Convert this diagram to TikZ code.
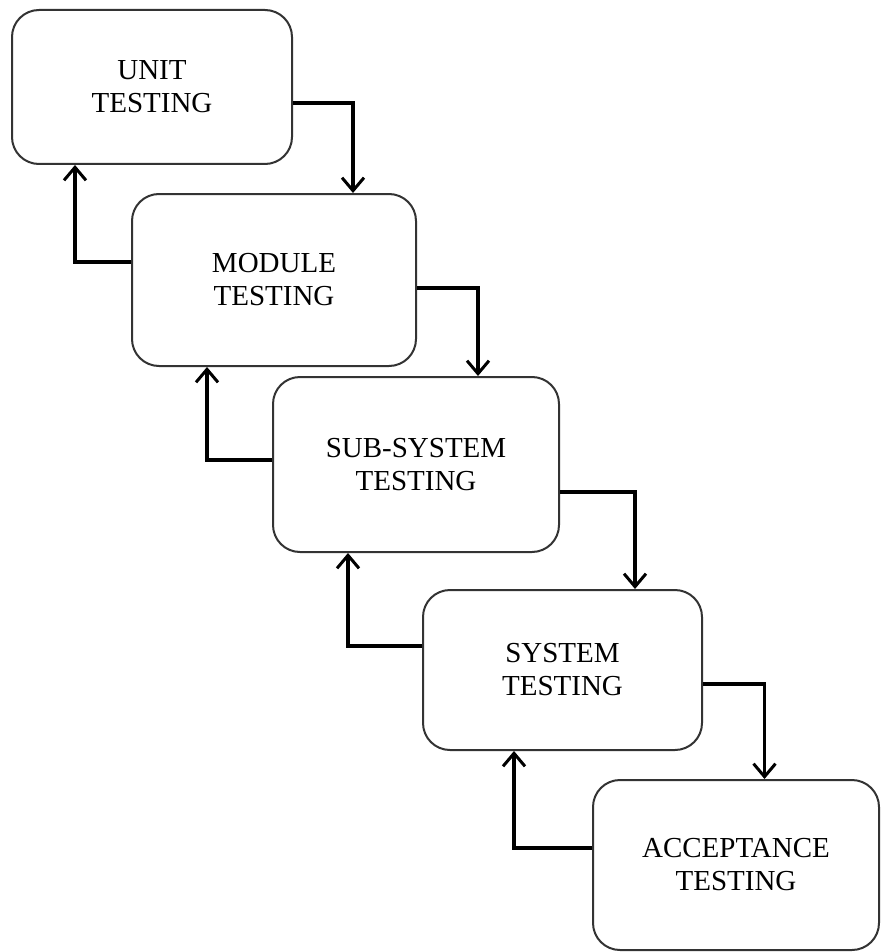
\documentclass[tikz,border=0pt]{standalone}
\usepackage{fontspec}
\setmainfont{Liberation Serif}
\usetikzlibrary{arrows.meta}
\begin{document}
\begin{tikzpicture}[x=1pt,y=-1pt,
  stage/.style={draw=black!80, line width=2pt, rounded corners=27pt, fill=white,
    align=center, font=\fontsize{29}{33}\selectfont, inner sep=0pt},
  flow/.style={line width=3.2pt, -{Straight Barb[length=13pt,width=22pt,line width=3pt]}}]
\useasboundingbox (0,0) rectangle (882,952);
\node[stage, minimum width=280pt, minimum height=154pt] (b1) at (152,87) {UNIT\\TESTING};
\node[stage, minimum width=284pt, minimum height=172pt] (b2) at (274,280) {MODULE\\TESTING};
\node[stage, minimum width=286pt, minimum height=175pt] (b3) at (416,464.5) {SUB-SYSTEM\\TESTING};
\node[stage, minimum width=279pt, minimum height=160pt] (b4) at (562.5,670) {SYSTEM\\TESTING};
\node[stage, minimum width=286pt, minimum height=170pt] (b5) at (736,865) {ACCEPTANCE\\TESTING};
% downward connectors
\draw[flow] ([yshift=-16pt]b1.east) -| ([xshift=79pt]b2.north);
\draw[flow] ([yshift=-8pt]b2.east) -| ([xshift=62pt]b3.north);
\draw[flow] ([yshift=-27.5pt]b3.east) -| ([xshift=72.5pt]b4.north);
\draw[flow] ([yshift=-14pt]b4.east) -| ([xshift=28.5pt]b5.north);
% upward connectors
\draw[flow] ([yshift=18pt]b2.west) -| ([xshift=-77pt]b1.south);
\draw[flow] ([yshift=4.5pt]b3.west) -| ([xshift=-67pt]b2.south);
\draw[flow] ([yshift=24pt]b4.west) -| ([xshift=-68pt]b3.south);
\draw[flow] ([yshift=17pt]b5.west) -| ([xshift=-48.5pt]b4.south);
\end{tikzpicture}
\end{document}
